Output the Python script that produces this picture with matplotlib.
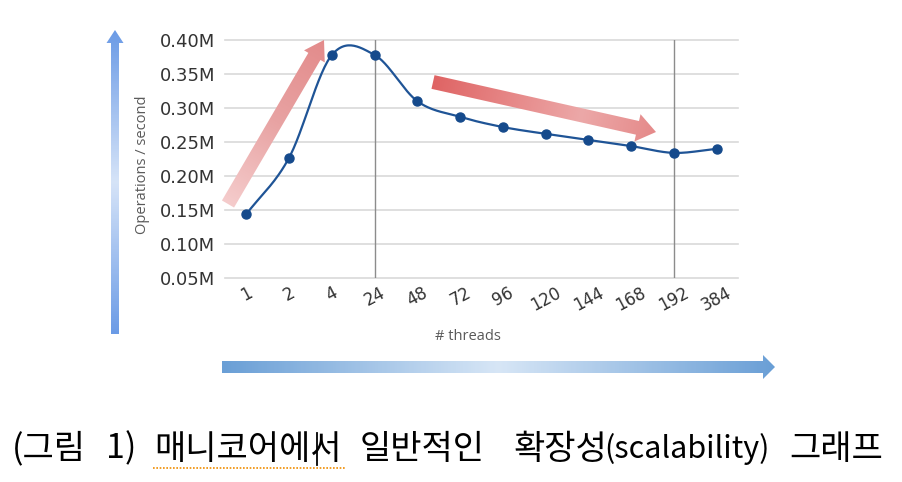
import numpy as np
import matplotlib.pyplot as plt
from matplotlib.colors import LinearSegmentedColormap
from matplotlib.patches import Polygon

# data
threads = ["1", "2", "4", "24", "48", "72", "96", "120", "144", "168", "192", "384"]
ops = [0.144, 0.227, 0.378, 0.378, 0.310, 0.287, 0.272, 0.262, 0.253, 0.244, 0.234, 0.240]
yticks = [0.05, 0.10, 0.15, 0.20, 0.25, 0.30, 0.35, 0.40]
ytick_labels = ["0.05M", "0.10M", "0.15M", "0.20M", "0.25M", "0.30M", "0.35M", "0.40M"]
marked = ["24", "192"]
caption_parts = ["(그림", "1)", "매니코어에서", "일반적인", "확장성", "(scalability)", "그래프"]
caption_x = [49, 121, 248, 422, 560, 687, 836]
caption_size = [24.5, 24.5, 24.5, 24.5, 24.5, 22, 24.5]

W, H = 902, 482
fig = plt.figure(figsize=(W / 100, H / 100), dpi=100)
fig.patch.set_facecolor("white")


def smooth(x, y, n=30):
    # catmull-rom through the points, like a smoothed office chart line
    x = np.asarray(x, float)
    y = np.asarray(y, float)
    px = np.r_[2 * x[0] - x[1], x, 2 * x[-1] - x[-2]]
    py = np.r_[2 * y[0] - y[1], y, 2 * y[-1] - y[-2]]
    xs, ys = [], []
    t = np.linspace(0, 1, n)
    for i in range(1, len(px) - 2):
        for p, out in ((px, xs), (py, ys)):
            p0, p1, p2, p3 = p[i - 1], p[i], p[i + 1], p[i + 2]
            m1 = (p2 - p0) / 2
            m2 = (p3 - p1) / 2
            h00 = 2 * t**3 - 3 * t**2 + 1
            h10 = t**3 - 2 * t**2 + t
            h01 = -2 * t**3 + 3 * t**2
            h11 = t**3 - t**2
            out.extend(h00 * p1 + h10 * m1 + h01 * p2 + h11 * m2)
    return np.array(xs), np.array(ys)


ax = fig.add_axes([225 / W, 1 - 278 / H, 513 / W, 238 / H])
xpos = np.arange(len(threads))
ax.set_xlim(-0.5, len(threads) - 0.5)
ax.set_ylim(0.05, 0.40)
for v in yticks:
    ax.axhline(v, color="#d9d9d9", lw=1.2, zorder=1, clip_on=False)
for m in marked:
    ax.axvline(threads.index(m), color="#8c8c8c", lw=1.0, zorder=1)

sx, sy = smooth(xpos, ops)
ax.plot(sx, sy, color="#1f5496", lw=1.6, zorder=3)
ax.plot(xpos, ops, "o", color="#154a8c", ms=6.5, zorder=4, clip_on=False)

for s in ax.spines.values():
    s.set_visible(False)
ax.set_yticks(yticks)
ax.set_yticklabels(ytick_labels, fontsize=13, color="#333333")
ax.set_xticks(xpos)
ax.set_xticklabels(threads, fontsize=12, color="#333333", rotation=28, ha="center")
ax.tick_params(length=0)
ax.tick_params(axis="y", pad=7)
ax.tick_params(axis="x", pad=4)
ax.set_facecolor("none")

fig.text(142 / W, 1 - 165 / H, "Operations / second", rotation=90, fontsize=10.5,
         family="Open Sans", color="#595959", ha="center", va="center")
fig.text(468 / W, 1 - 336 / H, "# threads", fontsize=10.5, family="Open Sans",
         color="#595959", ha="center", va="center")

# overlays in pixel coordinates for the decoration arrows and caption
ov = fig.add_axes([0, 0, 1, 1], zorder=-1)
ov2 = fig.add_axes([0, 0, 1, 1], zorder=5)
for a in (ov, ov2):
    a.axis("off")
    a.patch.set_alpha(0)


def grad_arrow(a, tail, tip, shaft, head_w, head_l, colors):
    tail = np.array(tail, float)
    tip = np.array(tip, float)
    d = tip - tail
    L = np.hypot(*d)
    u = d / L
    nrm = np.array([-u[1], u[0]])
    b = tip - u * head_l
    pts = [tail + nrm * shaft / 2, b + nrm * shaft / 2, b + nrm * head_w / 2, tip,
           b - nrm * head_w / 2, b - nrm * shaft / 2, tail - nrm * shaft / 2]
    poly = Polygon(pts, closed=True, facecolor="none", edgecolor="none")
    a.add_patch(poly)
    pts = np.array(pts)
    x0, y0 = pts.min(axis=0) - 2
    x1, y1 = pts.max(axis=0) + 2
    gx, gy = np.meshgrid(np.linspace(x0, x1, 300), np.linspace(y0, y1, 300))
    tt = ((gx - tail[0]) * u[0] + (gy - tail[1]) * u[1]) / L
    cmap = LinearSegmentedColormap.from_list("g", colors)
    im = a.imshow(np.clip(tt, 0, 1), cmap=cmap, vmin=0, vmax=1, extent=[x0, x1, y1, y0],
                  origin="upper", interpolation="bilinear", aspect="auto")
    im.set_clip_path(poly)


grad_arrow(ov, (115, 334), (115, 30), 8, 17, 13, ["#6b9be6", "#d6e4f8", "#6b9be6"])
grad_arrow(ov, (222, 367), (775, 367), 12, 24, 12, ["#6a9fd6", "#d7e6f6", "#6a9fd6"])
grad_arrow(ov2, (228, 204), (324, 40), 14, 24, 19, ["#f5cccc", "#e8a3a3", "#e38b8b"])
grad_arrow(ov2, (433, 82), (656, 132), 14, 28, 19, ["#df6464", "#e68686", "#eca8a8", "#e58a8a"])
for a in (ov, ov2):
    a.set_xlim(0, W)
    a.set_ylim(H, 0)

for part, x, fs in zip(caption_parts, caption_x, caption_size):
    ov2.text(x, 449, part, fontsize=fs, family=["Noto Sans CJK KR", "DejaVu Sans"],
             color="black", ha="center", va="center")
# spell-check squiggle under one word and the text cursor
ov2.plot([153, 345], [468, 468], color="#f08c00", lw=1.2, ls=(0, (1, 1)))
ov2.plot([317, 317], [433, 465], color="black", lw=1.3)

fig.savefig("out.png", dpi=100)
